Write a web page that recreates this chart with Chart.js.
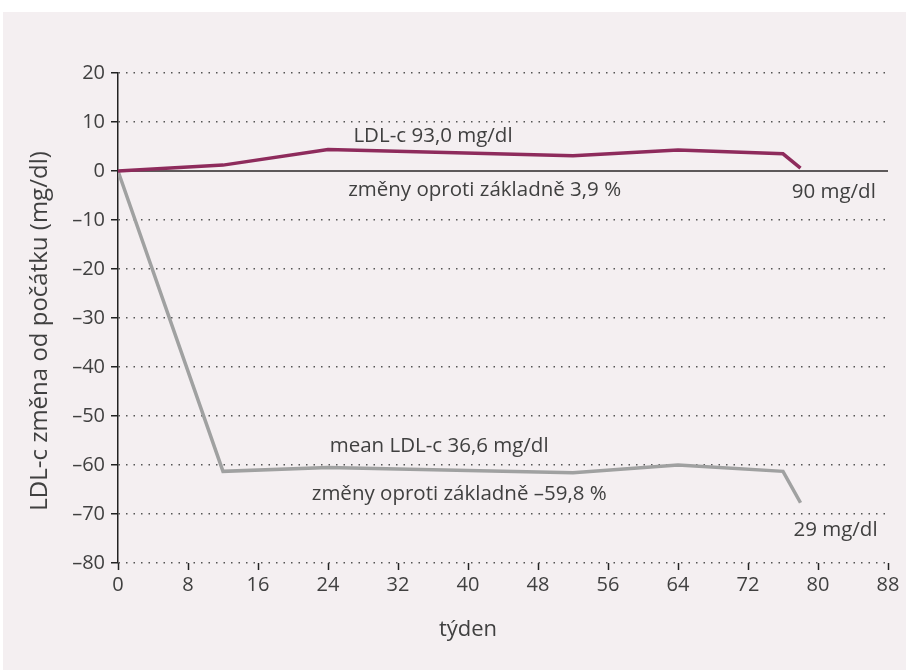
<!DOCTYPE html>
<html>
<head>
<meta charset="utf-8">
<script src="https://cdn.jsdelivr.net/npm/chart.js@4"></script>
<style>
  html, body { margin: 0; padding: 0; background: #ffffff; }
  #panel { position: absolute; left: 3px; top: 12px; width: 903px; height: 658px; background: #f4eff1; }
  #wrap { position: absolute; left: 0; top: 0; width: 906px; height: 670px; }
</style>
</head>
<body>
<div id="panel"></div>
<div id="wrap"><canvas id="ldlChart" width="906" height="670"></canvas></div>
<script>
// weeks and change from baseline (mg/dl)
const weeks = [0, 12, 24, 52, 64, 76, 78];
const placeboChange = [0, 1.2, 4.4, 3.1, 4.3, 3.5, 0.6];
const treatedChange = [0, -61.3, -60.5, -61.6, -60.0, -61.3, -67.7];
const xTicks = [0, 8, 16, 24, 32, 40, 48, 56, 64, 72, 80, 88];
const yTicks = [20, 10, 0, -10, -20, -30, -40, -50, -60, -70, -80];

// text notes placed in data coordinates
const notes = [
    { text: 'LDL-c 93,0 mg/dl', x: 36, y: 7.1 },
    { text: 'změny oproti základně 3,9 %', x: 41.9, y: -3.9 },
    { text: '90 mg/dl', x: 81.8, y: -4.3 },
    { text: 'mean LDL-c 36,6 mg/dl', x: 36.7, y: -56.1 },
    { text: 'změny oproti základně –59,8 %', x: 39, y: -65.9 },
    { text: '29 mg/dl', x: 82, y: -73.3 }
];

const FONT = '"Open Sans", "Noto Sans", sans-serif';
const TEXT = '#404040';

const extras = {
    id: 'extras',
    beforeDatasetsDraw(chart) {
        const { ctx, chartArea, scales } = chart;
        const y0 = scales.y.getPixelForValue(0);
        ctx.save();
        ctx.strokeStyle = '#5d595a';
        ctx.lineWidth = 2;
        ctx.beginPath();
        ctx.moveTo(chartArea.left, y0);
        ctx.lineTo(chartArea.right, y0);
        ctx.stroke();
        ctx.restore();
    },
    afterDraw(chart) {
        const { ctx, scales } = chart;
        ctx.save();
        ctx.fillStyle = TEXT;
        ctx.font = '20.5px ' + FONT;
        ctx.textAlign = 'center';
        ctx.textBaseline = 'middle';
        notes.forEach(n => {
            ctx.fillText(n.text, scales.x.getPixelForValue(n.x), scales.y.getPixelForValue(n.y));
        });
        // axis titles
        ctx.font = '22px ' + FONT;
        ctx.fillText('týden', 468, 630);
        ctx.translate(40, 331);
        ctx.rotate(-Math.PI / 2);
        ctx.font = '24px ' + FONT;
        ctx.fillText('LDL-c změna od počátku (mg/dl)', 0, 0);
        ctx.restore();
    }
};

const ctxLdl = document.getElementById('ldlChart').getContext('2d');
const ldlChart = new Chart(ctxLdl, {
    type: 'line',
    data: {
        datasets: [{
            label: 'placebo',
            data: weeks.map((w, i) => ({ x: w, y: placeboChange[i] })),
            borderColor: '#8e2b5c',
            borderWidth: 3.5,
            pointRadius: 0,
            tension: 0
        }, {
            label: 'léčba',
            data: weeks.map((w, i) => ({ x: w, y: treatedChange[i] })),
            borderColor: '#a0a1a1',
            borderWidth: 3.5,
            pointRadius: 0,
            tension: 0
        }]
    },
    options: {
        responsive: false,
        animation: false,
        layout: { padding: { left: 0, top: 73, right: 18, bottom: 0 } },
        plugins: { legend: { display: false }, tooltip: { enabled: false } },
        scales: {
            x: {
                type: 'linear',
                min: 0,
                max: 88,
                afterBuildTicks: s => { s.ticks = xTicks.map(v => ({ value: v })); },
                afterFit: s => { s.height = 107; },
                grid: { drawOnChartArea: false, drawTicks: true, tickLength: 7, tickColor: '#222', tickWidth: 1.5 },
                border: { display: false },
                ticks: { color: TEXT, font: { family: FONT, size: 20 }, padding: 3, maxRotation: 0 }
            },
            y: {
                min: -80,
                max: 20,
                afterBuildTicks: s => { s.ticks = yTicks.map(v => ({ value: v })); },
                afterFit: s => { s.width = 118; },
                grid: {
                    color: '#555',
                    lineWidth: 1.5,
                    drawTicks: true,
                    tickLength: 7,
                    tickColor: '#222',
                    tickWidth: 1.5
                },
                border: { display: true, color: '#222', width: 1.5, dash: [1.5, 6] },
                ticks: {
                    color: TEXT,
                    font: { family: FONT, size: 20 },
                    padding: 6,
                    callback: v => String(v).replace('-', '\u2013')
                }
            }
        }
    },
    plugins: [extras]
});
</script>
</body>
</html>
